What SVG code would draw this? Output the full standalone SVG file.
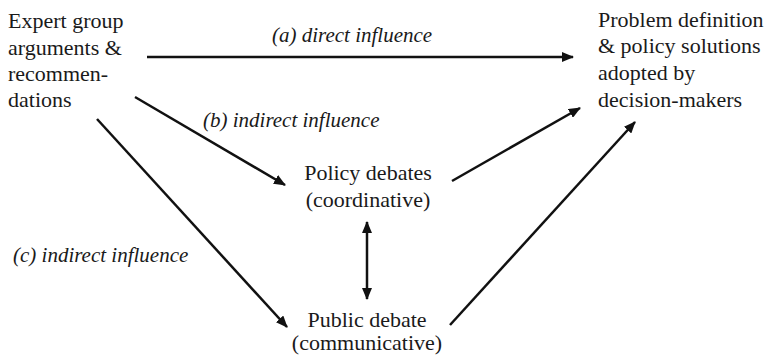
<svg xmlns="http://www.w3.org/2000/svg" width="772" height="361" viewBox="0 0 772 361">
  <style>
    text { font-family: 'Liberation Serif', 'Times New Roman', serif; fill: #1a1a1a; }
    .node { font-size: 22px; }
    .lbl { font-size: 21px; font-style: italic; }
    .edge { stroke: #111; stroke-width: 2.5; fill: none; }
  </style>
  <defs>
    <marker id="head" viewBox="0 0 12 10" refX="11" refY="5" markerWidth="12" markerHeight="10" markerUnits="userSpaceOnUse" orient="auto-start-reverse">
      <path d="M0,0 L12,5 L0,10 z" fill="#111"/>
    </marker>
  </defs>
  <rect width="772" height="361" fill="#fff"/>

  <!-- influence paths and their labels -->
  <g id="connectors">
    <line class="edge" x1="147" y1="57" x2="573" y2="57" marker-end="url(#head)"/>
    <line class="edge" x1="135" y1="97" x2="285" y2="185" marker-end="url(#head)"/>
    <line class="edge" x1="97" y1="119" x2="287" y2="327" marker-end="url(#head)"/>
    <line class="edge" x1="452" y1="181" x2="580" y2="108" marker-end="url(#head)"/>
    <line class="edge" x1="450" y1="325" x2="635" y2="122" marker-end="url(#head)"/>
    <line class="edge" x1="367" y1="222" x2="367" y2="299" marker-start="url(#head)" marker-end="url(#head)"/>
    <text class="lbl" x="272" y="42">(a) direct influence</text>
    <text class="lbl" x="203" y="127">(b) indirect influence</text>
    <text class="lbl" x="13" y="262">(c) indirect influence</text>
  </g>

  <g id="expert-group">
    <text class="node" x="8" y="28">Expert group</text>
    <text class="node" x="8" y="55">arguments &amp;</text>
    <text class="node" x="8" y="81">recommen-</text>
    <text class="node" x="8" y="107">dations</text>
  </g>

  <g id="decision-makers">
    <text class="node" x="598" y="27">Problem definition</text>
    <text class="node" x="598" y="53">&amp; policy solutions</text>
    <text class="node" x="598" y="80">adopted by</text>
    <text class="node" x="598" y="107">decision-makers</text>
  </g>

  <g id="policy-debates">
    <text class="node" x="368" y="180" text-anchor="middle">Policy debates</text>
    <text class="node" x="368" y="207" text-anchor="middle">(coordinative)</text>
  </g>

  <g id="public-debate">
    <text class="node" x="367" y="327" text-anchor="middle">Public debate</text>
    <text class="node" x="367" y="350" text-anchor="middle">(communicative)</text>
  </g>
</svg>
